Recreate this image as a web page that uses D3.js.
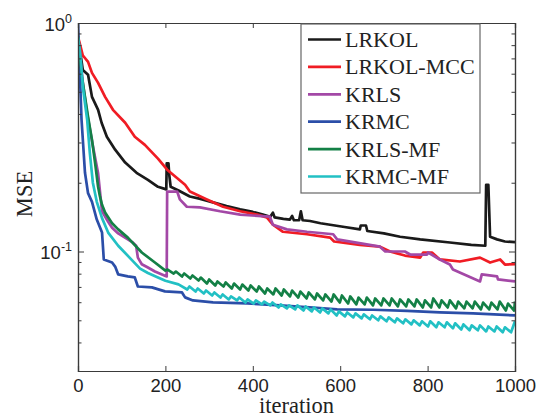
<!DOCTYPE html>
<html>
<head>
<meta charset="utf-8">
<script src="https://cdn.jsdelivr.net/npm/d3@7"></script>
<style>
  html, body { margin: 0; padding: 0; background: #fff; }
  svg { display: block; }
</style>
</head>
<body>
<div id="chart"></div>
<script>
// [iteration, MSE]
const lrkol = [[0,0.87],[11,0.623],[23,0.593],[32,0.475],[46,0.417],[54,0.366],[66,0.318],[85,0.279],[108,0.245],[134,0.221],[160,0.206],[183,0.192],[202,0.187],[203,0.243],[207,0.243],[209,0.215],[212,0.192],[230,0.185],[256,0.174],[280,0.170],[309,0.164],[340,0.158],[371,0.153],[400,0.149],[423,0.145],[440,0.142],[446,0.148],[450,0.141],[470,0.139],[485,0.138],[490,0.143],[494,0.137],[506,0.137],[510,0.150],[514,0.137],[531,0.136],[555,0.133],[577,0.131],[610,0.128],[645,0.125],[647,0.130],[659,0.130],[662,0.123],[700,0.120],[737,0.116],[783,0.113],[851,0.1095],[900,0.107],[932,0.106],[934,0.196],[939,0.196],[943,0.116],[959,0.113],[977,0.1106],[1000,0.110]];

const lrkolMcc = [[0,0.87],[5,0.80],[11,0.72],[14,0.71],[23,0.676],[32,0.605],[46,0.547],[62,0.475],[80,0.417],[108,0.366],[130,0.318],[153,0.293],[183,0.255],[204,0.228],[245,0.196],[256,0.183],[295,0.169],[332,0.157],[371,0.150],[410,0.145],[432,0.141],[446,0.131],[469,0.122],[524,0.119],[577,0.115],[586,0.1106],[645,0.107],[691,0.105],[714,0.100],[748,0.096],[783,0.094],[790,0.099],[810,0.099],[828,0.0923],[874,0.0904],[920,0.094],[943,0.0895],[966,0.0923],[977,0.0877],[1000,0.0880]];

const krls = [[0,0.87],[11,0.55],[21,0.40],[34,0.29],[46,0.22],[55,0.150],[69,0.135],[78,0.127],[92,0.120],[124,0.110],[133,0.106],[137,0.094],[146,0.0880],[160,0.0851],[176,0.0818],[203,0.0778],[204,0.183],[227,0.183],[233,0.169],[249,0.157],[279,0.156],[325,0.150],[371,0.145],[439,0.142],[446,0.131],[478,0.125],[524,0.122],[584,0.119],[593,0.113],[691,0.105],[703,0.100],[748,0.100],[760,0.097],[799,0.097],[801,0.099],[828,0.0923],[851,0.0877],[858,0.0834],[920,0.0740],[924,0.0794],[959,0.0778],[961,0.0755],[1000,0.0740]];

const krmc = [[0,1.0],[3,0.70],[8,0.38],[16,0.221],[23,0.180],[32,0.165],[43,0.138],[55,0.121],[59,0.0923],[78,0.0895],[85,0.0859],[92,0.0794],[114,0.0778],[130,0.0770],[137,0.0703],[169,0.0697],[199,0.0669],[238,0.0662],[245,0.0630],[263,0.0611],[309,0.0599],[387,0.0593],[462,0.0581],[538,0.0569],[593,0.0558],[675,0.0556],[753,0.0550],[828,0.0542],[904,0.0536],[1000,0.0525]];

const krlsMf = [[0,0.87],[9,0.581],[16,0.475],[23,0.389],[32,0.308],[39,0.245],[46,0.192],[50,0.175],[55,0.160],[62,0.148],[78,0.133],[92,0.125],[114,0.115],[146,0.099],[176,0.0895],
  [200,0.0825],[205,0.0834],[219,0.0801],[224,0.0817],[238,0.0777],[243,0.0801],[257,0.0762],[262,0.0785],[276,0.0747],[281,0.0769],[295,0.0724],[300,0.0754],[314,0.0710],[319,0.0739],[333,0.0703],[338,0.0732],[352,0.0689],[357,0.0724],[371,0.0682],[376,0.0717],[390,0.0675],[395,0.0710],[409,0.0668],[414,0.0703],[428,0.0655],[433,0.0689],[447,0.0649],[452,0.0689],[466,0.0642],[471,0.0682],[485,0.0636],[490,0.0675],[504,0.0629],[509,0.0668],[523,0.0623],[528,0.0662],[542,0.0617],[547,0.0655],[561,0.0611],[566,0.0649],[580,0.0604],[585,0.0649],[599,0.0598],[604,0.0642],[618,0.0592],[623,0.0636],[637,0.0587],[642,0.0629],[656,0.0587],[661,0.0629],[675,0.0581],[680,0.0623],[694,0.0581],[699,0.0623],[713,0.0581],[718,0.0623],[732,0.0575],[737,0.0617],[751,0.0575],[756,0.0617],[770,0.0575],[775,0.0617],[789,0.0569],[794,0.0611],[808,0.0569],[813,0.0623],[827,0.0569],[832,0.0611],[846,0.0569],[851,0.0611],[865,0.0564],[870,0.0604],[884,0.0564],[889,0.0604],[903,0.0564],[908,0.0604],[922,0.0558],[927,0.0598],[941,0.0558],[946,0.0598],[960,0.0558],[965,0.0604],[979,0.0552],[984,0.0592],[998,0.0552],[1000,0.0605]];

const krmcMf = [[0,0.87],[5,0.740],[11,0.526],[21,0.377],[27,0.271],[34,0.200],[43,0.165],[55,0.140],[69,0.121],[92,0.1060],[124,0.0915],[142,0.0842],[160,0.0805],[183,0.0770],[200,0.0745],[230,0.0718],
  [250,0.0682],[255,0.0703],[269,0.0668],[274,0.0689],[288,0.0655],[293,0.0675],[307,0.0642],[312,0.0662],[326,0.0629],[331,0.0649],[345,0.0617],[350,0.0636],[364,0.0611],[369,0.0629],[383,0.0598],[388,0.0617],[402,0.0592],[407,0.0611],[421,0.0587],[426,0.0604],[440,0.0581],[445,0.0598],[459,0.0569],[464,0.0587],[478,0.0564],[483,0.0581],[497,0.0558],[502,0.0581],[516,0.0552],[521,0.0575],[535,0.0547],[540,0.0569],[554,0.0541],[559,0.0564],[573,0.0536],[578,0.0558],[592,0.0525],[597,0.0547],[611,0.0520],[616,0.0541],[630,0.0515],[635,0.0536],[649,0.0510],[654,0.0531],[668,0.0505],[673,0.0525],[687,0.0500],[692,0.0520],[706,0.0495],[711,0.0515],[725,0.0490],[730,0.0510],[744,0.0485],[749,0.0505],[763,0.0480],[768,0.0500],[782,0.0475],[787,0.0495],[801,0.0470],[806,0.0495],[820,0.0466],[825,0.0490],[839,0.0466],[844,0.0490],[858,0.0461],[863,0.0485],[877,0.0456],[882,0.0480],[896,0.0452],[901,0.0475],[915,0.0452],[920,0.0475],[934,0.0447],[939,0.0470],[953,0.0447],[958,0.0470],[972,0.0443],[977,0.0466],[991,0.0443],[1000,0.0495]];

const seriesNames = ["LRKOL", "LRKOL-MCC", "KRLS", "KRMC", "KRLS-MF", "KRMC-MF"];
const seriesColors = ["#1a1a1a", "#f01c24", "#a348a6", "#2b4ea8", "#138046", "#22c0c4"];
const seriesData = [lrkol, lrkolMcc, krls, krmc, krlsMf, krmcMf];

const xTicks = [0, 200, 400, 600, 800, 1000];
const yMajor = [1, 0.1];
const yMinor = [0.9, 0.8, 0.7, 0.6, 0.5, 0.4, 0.3, 0.2, 0.09, 0.08, 0.07, 0.06, 0.05, 0.04];

const W = 547, H = 419;
const plotL = 78, plotR = 515, plotT = 23, plotB = 371;

const x = d3.scaleLinear().domain([0, 1000]).range([plotL, plotR]);
const y = d3.scaleLog().domain([0.03, 1]).range([plotB, plotT]);

const svg = d3.select("#chart").append("svg")
  .attr("width", W)
  .attr("height", H);

svg.append("defs").append("clipPath").attr("id", "plot")
  .append("rect")
  .attr("x", plotL).attr("y", plotT)
  .attr("width", plotR - plotL).attr("height", plotB - plotT);

const line = d3.line()
  .x(d => x(d[0]))
  .y(d => y(d[1]));

// curves
svg.append("g")
  .attr("clip-path", "url(#plot)")
  .selectAll("path")
  .data(seriesData)
  .join("path")
  .attr("fill", "none")
  .attr("stroke", (d, i) => seriesColors[i])
  .attr("stroke-width", 2.7)
  .attr("stroke-linejoin", "round")
  .attr("d", line);

// axes (ticks point inward)
const axisColor = "#3a3a3a";
const tickFont = "'Liberation Sans', Arial, sans-serif";

svg.append("g")
  .attr("transform", `translate(0,${plotB})`)
  .call(d3.axisBottom(x).tickValues(xTicks).tickSize(-5).tickPadding(8).tickFormat(d3.format("d")))
  .call(g => g.selectAll("text").attr("font-size", 18.5).attr("font-family", tickFont).attr("fill", "#222"));

svg.append("g")
  .attr("transform", `translate(0,${plotT})`)
  .call(d3.axisTop(x).tickValues(xTicks).tickSize(-5).tickFormat(""));

svg.append("g")
  .attr("transform", `translate(${plotL},0)`)
  .call(d3.axisLeft(y).tickValues(yMinor).tickSize(-3.5).tickFormat(""));
svg.append("g")
  .attr("transform", `translate(${plotL},0)`)
  .call(d3.axisLeft(y).tickValues(yMajor).tickSize(-6).tickFormat(""));

svg.append("g")
  .attr("transform", `translate(${plotR},0)`)
  .call(d3.axisRight(y).tickValues(yMinor).tickSize(-3.5).tickFormat(""));
svg.append("g")
  .attr("transform", `translate(${plotR},0)`)
  .call(d3.axisRight(y).tickValues(yMajor).tickSize(-6).tickFormat(""));

svg.selectAll(".domain").attr("stroke", axisColor).attr("stroke-width", 1.2);
svg.selectAll(".tick line").attr("stroke", axisColor).attr("stroke-width", 1);

// y tick labels as 10^k
const yLab = svg.append("g")
  .attr("font-family", tickFont)
  .attr("fill", "#222")
  .selectAll("text")
  .data(yMajor)
  .join("text")
  .attr("x", 72)
  .attr("y", d => y(d) + 7.5)
  .attr("text-anchor", "end")
  .attr("font-size", 18.5);
yLab.append("tspan").text("10");
yLab.append("tspan")
  .attr("dy", -8)
  .attr("font-size", 12.5)
  .text(d => Math.round(Math.log10(d)));

// axis titles
const serif = "'Liberation Serif', 'Times New Roman', serif";

svg.append("text")
  .attr("x", (plotL + plotR) / 2)
  .attr("y", 413)
  .attr("text-anchor", "middle")
  .attr("font-family", serif)
  .attr("font-size", 22.5)
  .attr("fill", "#222")
  .text("iteration");

svg.append("text")
  .attr("transform", `translate(32,${(plotT + plotB) / 2 - 3}) rotate(-90)`)
  .attr("text-anchor", "middle")
  .attr("font-family", serif)
  .attr("font-size", 22.5)
  .attr("fill", "#222")
  .text("MSE");

// legend
const legend = svg.append("g");
legend.append("rect")
  .attr("x", 301).attr("y", 24)
  .attr("width", 179).attr("height", 169)
  .attr("fill", "#fff")
  .attr("stroke", "#666")
  .attr("stroke-width", 1.2);

const item = legend.selectAll("g")
  .data(seriesNames)
  .join("g")
  .attr("transform", (d, i) => `translate(0,${39.5 + i * 27.4})`);

item.append("line")
  .attr("x1", 308).attr("x2", 341)
  .attr("stroke", (d, i) => seriesColors[i])
  .attr("stroke-width", 2.7);

item.append("text")
  .attr("x", 345)
  .attr("y", 7.5)
  .attr("font-family", serif)
  .attr("font-size", 22)
  .attr("fill", "#222")
  .text(d => d);
</script>
</body>
</html>
